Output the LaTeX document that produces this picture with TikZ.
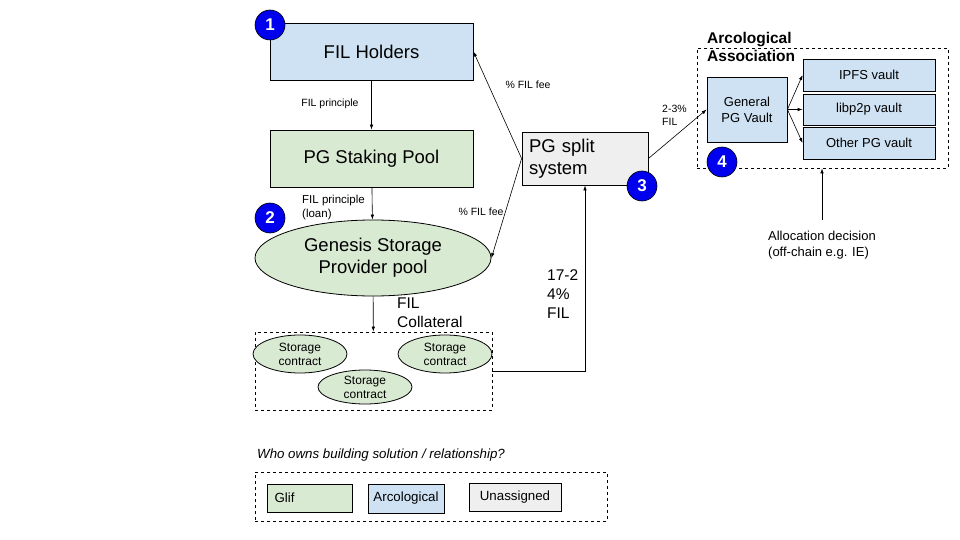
\documentclass[tikz,border=0pt]{standalone}
\usepackage{fontspec}
\setmainfont{Liberation Sans}
\usetikzlibrary{shapes.geometric,arrows.meta}

\definecolor{glifgreen}{HTML}{D9EAD3}
\definecolor{arcoblue}{HTML}{CFE2F3}
\definecolor{noonegrey}{HTML}{EFEFEF}
\definecolor{badgeblue}{HTML}{0000EE}

\tikzstyle{box} = [draw, line width=0.8pt, inner sep=2pt, align=center]
\tikzstyle{arco} = [box, fill=arcoblue]
\tikzstyle{glif} = [box, fill=glifgreen]
\tikzstyle{unowned} = [box, fill=noonegrey]
\tikzstyle{pool} = [ellipse, draw, line width=0.8pt, fill=glifgreen, inner sep=0pt, align=center]
\tikzstyle{group} = [draw, dashed, line width=0.7pt]
\tikzstyle{badge} = [circle, draw, line width=0.6pt, fill=badgeblue, text=white, minimum size=30pt, inner sep=0pt, font=\fontsize{17}{17}\selectfont\bfseries]
\tikzstyle{flow} = [-{Latex[length=5pt,width=3.5pt]}, line width=0.6pt]
\tikzstyle{note} = [font=\fontsize{10.5}{13}\selectfont, align=left, inner sep=0pt]

\begin{document}
\begin{tikzpicture}[x=1pt, y=-1pt]
        \useasboundingbox (0,0) rectangle (960,540);
        % Glif side
        \node[arco, minimum width=203pt, minimum height=57pt, font=\fontsize{18.5}{22}\selectfont] (holders) at (371.5,51.5) {FIL Holders};
        \node[glif, minimum width=203pt, minimum height=57pt, font=\fontsize{18.5}{22}\selectfont] (staking) at (371.5,158.5) {PG Staking Pool};
        \node[pool, minimum width=236pt, minimum height=76pt, font=\fontsize{18.5}{22}\selectfont] (genesis) at (373,258) {Genesis Storage\\Provider pool};
        \node[group, minimum width=237pt, minimum height=78pt] (contracts) at (373.5,371) {};
        \node[pool, minimum width=94pt, minimum height=38pt, font=\fontsize{12}{14}\selectfont] (sc1) at (300,354) {Storage\\contract};
        \node[pool, minimum width=94pt, minimum height=38pt, font=\fontsize{12}{14}\selectfont] (sc2) at (445,354) {Storage\\contract};
        \node[pool, minimum width=94pt, minimum height=34pt, font=\fontsize{12}{14}\selectfont] (sc3) at (365,387) {Storage\\contract};

        % split
        \node[unowned, minimum width=126pt, minimum height=53pt, text width=112pt, align=left, font=\fontsize{18.5}{22}\selectfont] (split) at (585,158.5) {PG split\\system};

        % Arcological side
        \node[group, minimum width=251pt, minimum height=120pt] (assoc) at (822.5,108) {};
        \node[anchor=north west, inner sep=0pt, align=left, font=\fontsize{15.5}{18}\selectfont\bfseries] (assoctitle) at (707,32) {Arcological\\Association};
        \node[arco, minimum width=80pt, minimum height=65pt, font=\fontsize{13}{16}\selectfont] (general) at (747,109.5) {General\\PG Vault};
        \node[arco, minimum width=132pt, minimum height=32pt, font=\fontsize{13}{16}\selectfont] (ipfs) at (869,75) {IPFS vault};
        \node[arco, minimum width=132pt, minimum height=31pt, font=\fontsize{13}{16}\selectfont] (libp2p) at (869,109.5) {libp2p vault};
        \node[arco, minimum width=132pt, minimum height=32pt, font=\fontsize{13}{16}\selectfont] (other) at (869,143) {Other PG vault};
        \node[font=\fontsize{13}{16}\selectfont, align=left, inner sep=0pt] (alloc) at (822,245) {Allocation decision\\(off-chain e.g. IE)};

        % numbers
        \node[badge] (m1) at (270,25) {1};
        \node[badge] (m2) at (270,218) {2};
        \node[badge] (m3) at (642,186) {3};
        \node[badge] (m4) at (722,162) {4};

        % flows
        \draw[flow] (holders) -- (staking);
        \draw[flow] (staking) -- (genesis);
        \draw[flow] (genesis) -- (contracts);
        \draw[flow] (contracts.east) -| (split.south);
        \draw[flow] (split.west) -- (holders.east);
        \draw[flow] (split.west) -- (genesis.east);
        \draw[flow] (split.east) -- (general.west);
        \draw[flow] (general.east) -- (ipfs.west);
        \draw[flow] (general.east) -- (libp2p.west);
        \draw[flow] (general.east) -- (other.west);
        \coordinate (allocup) at (alloc.north |- 0,220);
        \draw[flow] (allocup) -- (allocup |- assoc.south);

        % flow labels
        \node[note] (lprinciple) at (330,104) {FIL principle};
        \node[note, font=\fontsize{11.5}{14}\selectfont, anchor=north west] (lloan) at (302,195) {FIL principle\\(loan)};
        \node[note, font=\fontsize{15.5}{19}\selectfont, anchor=north west] (lcollateral) at (397,298) {FIL\\Collateral};
        \node[note, font=\fontsize{15.5}{19}\selectfont, anchor=north west] (lsplit) at (547,269) {17-2\\4\%\\FIL};
        \node[note] (lfeeup) at (528,85) {\% FIL fee};
        \node[note] (lfeedown) at (481,212) {\% FIL fee};
        \node[note, anchor=north west] (lpg) at (662,105) {2-3\%\\FIL};

        % legend
        \node[anchor=west, inner sep=0pt, font=\fontsize{13.3}{16}\selectfont\itshape] (legendtitle) at (257,455) {Who owns building solution / relationship?};
        \node[group, minimum width=352pt, minimum height=49pt] (legend) at (431,496.5) {};
        \node[glif, minimum width=85pt, minimum height=28pt, text width=70pt, align=left, font=\fontsize{13.3}{16}\selectfont] (kglif) at (309.5,498) {Glif};
        \node[arco, minimum width=76pt, minimum height=29pt, font=\fontsize{13.3}{16}\selectfont] (karco) at (406,498.5) {Arcological};
        \node[unowned, minimum width=92pt, minimum height=28pt, font=\fontsize{13.3}{16}\selectfont] (knone) at (515,497) {Unassigned};
\end{tikzpicture}
\end{document}
